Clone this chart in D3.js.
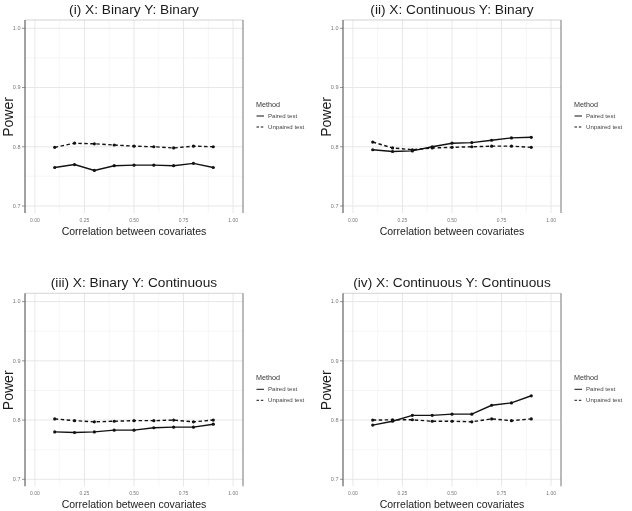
<!DOCTYPE html>
<html><head><meta charset="utf-8">
<script src="https://cdn.jsdelivr.net/npm/d3@7"></script>
<style>body{margin:0;background:#fff}svg{display:block}text{font-family:"Liberation Sans",Arial,sans-serif}.gs{opacity:0.995}</style>
</head><body>
<svg id="c" width="632" height="511"></svg>
<script>
const correlations = [0.1,0.2,0.3,0.4,0.5,0.6,0.7,0.8,0.9];
const xTicks = [0,0.25,0.5,0.75,1];
const xTickLabels = ["0.00","0.25","0.50","0.75","1.00"];
const yTicks = [0.7,0.8,0.9,1.0];
const yTickLabels = ["0.7","0.8","0.9","1.0"];
const methods = ["Paired test","Unpaired test"];
const titles = ["(i) X: Binary Y: Binary","(ii) X: Continuous Y: Binary","(iii) X: Binary Y: Continuous","(iv) X: Continuous Y: Continuous"];
const pairedI   = [0.765,0.770,0.760,0.768,0.769,0.769,0.768,0.772,0.765];
const unpairedI = [0.799,0.806,0.805,0.803,0.801,0.800,0.798,0.801,0.800];
const pairedII   = [0.795,0.792,0.793,0.800,0.806,0.807,0.811,0.815,0.816];
const unpairedII = [0.808,0.798,0.795,0.798,0.799,0.800,0.801,0.801,0.799];
const pairedIII   = [0.780,0.779,0.780,0.783,0.783,0.787,0.788,0.788,0.793];
const unpairedIII = [0.802,0.799,0.797,0.798,0.799,0.799,0.800,0.797,0.800];
const pairedIV   = [0.7915,0.798,0.808,0.808,0.810,0.810,0.825,0.829,0.841];
const unpairedIV = [0.800,0.8005,0.8005,0.798,0.798,0.797,0.802,0.799,0.802];

const panels = [
  {ox:0, oy:0, title:titles[0], s:[pairedI, unpairedI]},
  {ox:318, oy:0, title:titles[1], s:[pairedII, unpairedII]},
  {ox:0, oy:273.3, title:titles[2], s:[pairedIII, unpairedIII]},
  {ox:318, oy:273.3, title:titles[3], s:[pairedIV, unpairedIV]}
];
const svg = d3.select("#c");
panels.forEach(p => {
  const g = svg.append("g").attr("class","gs").attr("transform", `translate(${p.ox},${p.oy})`);
  const L = 25, R = 243, T = 20, B = 213;
  const x = d3.scaleLinear().domain([-0.05,1.05]).range([L,R]);
  const y = d3.scaleLinear().domain([0.7,1.0]).range([206,28.3]);
  const xMinor = [0.125,0.375,0.625,0.875];
  const yMinor = [0.75,0.85,0.95];
  g.selectAll(".vmin").data(xMinor).join("line").attr("x1",d=>x(d)).attr("x2",d=>x(d)).attr("y1",T).attr("y2",B).attr("stroke","#f0f0f0").attr("stroke-width",0.6);
  g.selectAll(".hmin").data(yMinor).join("line").attr("y1",d=>y(d)).attr("y2",d=>y(d)).attr("x1",L).attr("x2",R).attr("stroke","#f0f0f0").attr("stroke-width",0.6);
  g.selectAll(".vmaj").data(xTicks).join("line").attr("x1",d=>x(d)).attr("x2",d=>x(d)).attr("y1",T).attr("y2",B).attr("stroke","#e4e4e4").attr("stroke-width",0.9);
  g.selectAll(".hmaj").data(yTicks).join("line").attr("y1",d=>y(d)).attr("y2",d=>y(d)).attr("x1",L).attr("x2",R).attr("stroke","#e4e4e4").attr("stroke-width",0.9);
  g.append("line").attr("x1",L).attr("x2",R).attr("y1",T).attr("y2",T).attr("stroke","#c8c8c8").attr("stroke-width",0.8);
  g.append("line").attr("x1",R).attr("x2",R).attr("y1",T).attr("y2",B).attr("stroke","#777").attr("stroke-width",1);
  g.append("line").attr("x1",L).attr("x2",L).attr("y1",T).attr("y2",B).attr("stroke","#444").attr("stroke-width",1);
  g.selectAll(".yt").data(yTicks).join("line").attr("x1",L-3).attr("x2",L).attr("y1",d=>y(d)).attr("y2",d=>y(d)).attr("stroke","#666").attr("stroke-width",0.7);
  g.selectAll(".ytl").data(yTicks).join("text").attr("x",L-4.5).attr("y",d=>y(d)+1.8).attr("text-anchor","end").attr("font-size",5.5).attr("fill","#777").text((d,i)=>yTickLabels[i]);
  g.selectAll(".xtl").data(xTicks).join("text").attr("x",d=>x(d)).attr("y",222).attr("text-anchor","middle").attr("font-size",5).attr("fill","#777").text((d,i)=>xTickLabels[i]);
  g.append("text").attr("x",134).attr("y",13.5).attr("text-anchor","middle").attr("font-size",13.7).attr("fill","#1a1a1a").text(p.title);
  g.append("text").attr("transform","translate(12.5,117) rotate(-90)").attr("text-anchor","middle").attr("font-size",14).attr("fill","#1a1a1a").text("Power");
  g.append("text").attr("x",134).attr("y",234.5).attr("text-anchor","middle").attr("font-size",10.5).attr("fill","#1a1a1a").text("Correlation between covariates");
  const line = d3.line().x((d,i)=>x(correlations[i])).y(d=>y(d));
  const dashes = [null,"3.5,2.5"];
  p.s.forEach((vals,k) => {
    g.append("path").datum(vals).attr("d",line).attr("fill","none").attr("stroke","#111").attr("stroke-width",1.4).attr("stroke-dasharray",dashes[k]);
    g.selectAll(".pt"+k).data(vals).join("circle").attr("cx",(d,i)=>x(correlations[i])).attr("cy",d=>y(d)).attr("r",1.6).attr("fill","#111");
  });
  const lg = g.append("g").attr("transform","translate(256,0)");
  lg.append("text").attr("x",0).attr("y",106.5).attr("font-size",7.2).attr("fill","#333").text("Method");
  methods.forEach((m,k) => {
    const yy = 116 + k*11;
    lg.append("line").attr("x1",0.5).attr("x2",8).attr("y1",yy).attr("y2",yy).attr("stroke","#111").attr("stroke-width",1).attr("stroke-dasharray",dashes[k]? "2.5,1.8":null);
    lg.append("text").attr("x",12).attr("y",yy+2).attr("font-size",6.1).attr("fill","#444").text(m);
  });
});
</script>
</body></html>
